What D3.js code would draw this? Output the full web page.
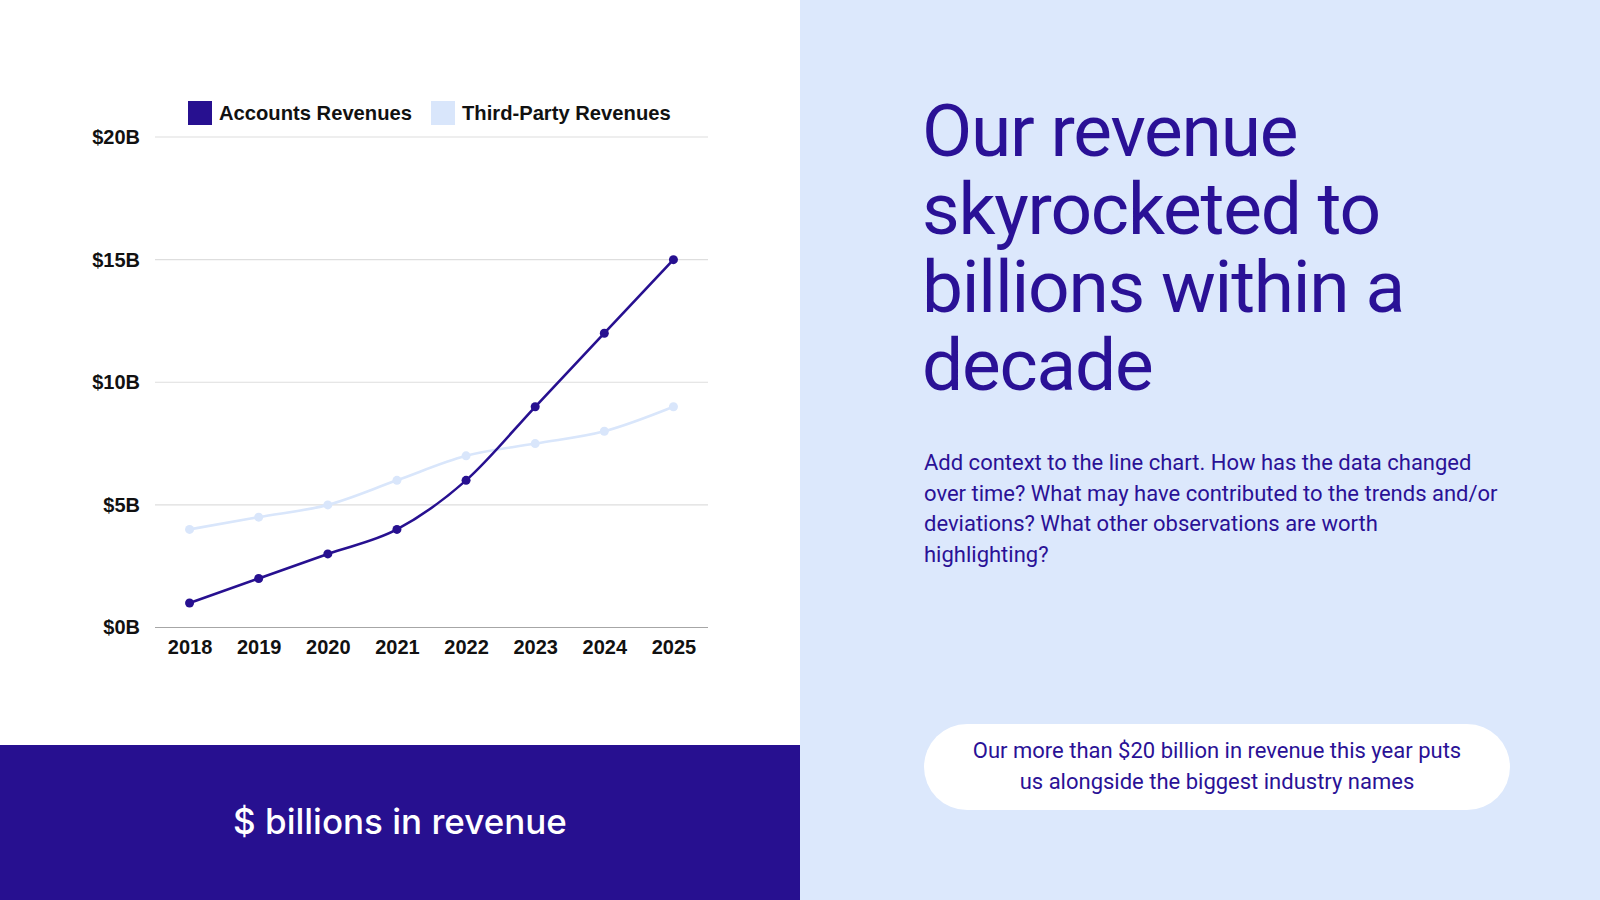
<!DOCTYPE html>
<html>
<head>
<meta charset="utf-8">
<script src="https://cdn.jsdelivr.net/npm/d3@7"></script>
<style>
  html, body { margin: 0; padding: 0; }
  body { width: 1600px; height: 900px; overflow: hidden; background: #fff; }
</style>
</head>
<body>
<svg id="chart" width="1600" height="900"></svg>
<script>
// chart data
var years = ['2018', '2019', '2020', '2021', '2022', '2023', '2024', '2025']
var accounts = [1, 2, 3, 4, 6, 9, 12, 15]
var thirdParty = [4, 4.5, 5, 6, 7, 7.5, 8, 9]
var yTicks = [0, 5, 10, 15, 20]
var seriesNames = ['Accounts Revenues', 'Third-Party Revenues']

var titleLines = ['Our revenue', 'skyrocketed to', 'billions within a', 'decade']
var bodyLines = [
  'Add context to the line chart. How has the data changed',
  'over time? What may have contributed to the trends and/or',
  'deviations? What other observations are worth',
  'highlighting?'
]
var pillLines = [
  'Our more than $20 billion in revenue this year puts',
  'us alongside the biggest industry names'
]
var footer = '$ billions in revenue'

var dark = '#271090'
var light = '#d9e6fb'
var ink = '#2a1196'

var svg = d3.select('#chart')

// panels
svg.append('rect').attr('x', 0).attr('y', 0).attr('width', 800).attr('height', 900).attr('fill', '#fff')
svg.append('rect').attr('x', 800).attr('y', 0).attr('width', 800).attr('height', 900).attr('fill', '#dce8fc')
svg.append('rect').attr('x', 0).attr('y', 745).attr('width', 800).attr('height', 155).attr('fill', dark)

svg.append('text')
  .attr('x', 400)
  .attr('y', 834)
  .attr('text-anchor', 'middle')
  .attr('font-family', 'Inter, sans-serif')
  .attr('font-weight', 500)
  .attr('font-size', '35px')
  .attr('fill', '#fff')
  .text(footer)

// chart
var x = d3.scalePoint().domain(years).range([155, 708]).padding(0.5)
var y = d3.scaleLinear().domain([0, 20]).range([627.5, 137])

var g = svg.append('g')

g.selectAll('line.grid')
  .data(yTicks)
  .enter().append('line')
  .attr('class', 'grid')
  .attr('x1', 155)
  .attr('x2', 708)
  .attr('y1', function (d) { return y(d) })
  .attr('y2', function (d) { return y(d) })
  .attr('stroke', function (d) { return d === 0 ? '#a6a6a6' : '#dedede' })
  .attr('stroke-width', 1.2)

var yAxis = g.append('g')
  .attr('transform', 'translate(140,0)')
  .call(d3.axisLeft(y).tickValues(yTicks).tickSize(0).tickPadding(0)
    .tickFormat(function (d) { return '$' + d + 'B' }))
yAxis.select('.domain').remove()
yAxis.selectAll('text')
  .attr('font-family', '"Liberation Sans", Arial, sans-serif')
  .attr('font-weight', 'bold')
  .attr('font-size', '20px')
  .attr('fill', '#111')

var xAxis = g.append('g')
  .attr('transform', 'translate(0,640)')
  .call(d3.axisBottom(x).tickSize(0).tickPadding(0))
xAxis.select('.domain').remove()
xAxis.selectAll('text')
  .attr('font-family', '"Liberation Sans", Arial, sans-serif')
  .attr('font-weight', 'bold')
  .attr('font-size', '20px')
  .attr('fill', '#111')

var line = d3.line()
  .x(function (d, i) { return x(years[i]) })
  .y(function (d) { return y(d) })
  .curve(d3.curveMonotoneX)

var series = [
  { name: seriesNames[1], values: thirdParty, color: light },
  { name: seriesNames[0], values: accounts, color: dark }
]

series.forEach(function (s) {
  g.append('path')
    .datum(s.values)
    .attr('d', line)
    .attr('fill', 'none')
    .attr('stroke', s.color)
    .attr('stroke-width', 2.6)
  g.selectAll(null)
    .data(s.values)
    .enter().append('circle')
    .attr('cx', function (d, i) { return x(years[i]) })
    .attr('cy', function (d) { return y(d) })
    .attr('r', 4.5)
    .attr('fill', s.color)
})

// legend
var legend = [
  { name: seriesNames[0], color: dark, x: 188 },
  { name: seriesNames[1], color: light, x: 431 }
]
legend.forEach(function (l) {
  svg.append('rect')
    .attr('x', l.x).attr('y', 101).attr('width', 24).attr('height', 24)
    .attr('fill', l.color)
  svg.append('text')
    .attr('x', l.x + 31)
    .attr('y', 119.5)
    .attr('font-family', '"Liberation Sans", Arial, sans-serif')
    .attr('font-weight', 'bold')
    .attr('font-size', '20.2px')
    .attr('fill', '#111')
    .text(l.name)
})

// right side text
svg.selectAll('text.title')
  .data(titleLines)
  .enter().append('text')
  .attr('class', 'title')
  .attr('x', 922)
  .attr('y', function (d, i) { return 156 + i * 78 })
  .attr('font-family', 'Roboto, sans-serif')
  .attr('font-size', '73px')
  .attr('letter-spacing', '-1.2px')
  .attr('fill', ink)
  .text(function (d) { return d })

svg.selectAll('text.body')
  .data(bodyLines)
  .enter().append('text')
  .attr('class', 'body')
  .attr('x', 924)
  .attr('y', function (d, i) { return 470 + i * 30.6 })
  .attr('font-family', 'Roboto, sans-serif')
  .attr('font-size', '22px')
  .attr('fill', ink)
  .text(function (d) { return d })

svg.append('rect')
  .attr('x', 924).attr('y', 724).attr('width', 586).attr('height', 86)
  .attr('rx', 43).attr('ry', 43)
  .attr('fill', '#fff')

svg.selectAll('text.pill')
  .data(pillLines)
  .enter().append('text')
  .attr('class', 'pill')
  .attr('x', 1217)
  .attr('y', function (d, i) { return 758 + i * 30.6 })
  .attr('text-anchor', 'middle')
  .attr('font-family', 'Roboto, sans-serif')
  .attr('font-size', '22px')
  .attr('fill', ink)
  .text(function (d) { return d })
</script>
</body>
</html>
